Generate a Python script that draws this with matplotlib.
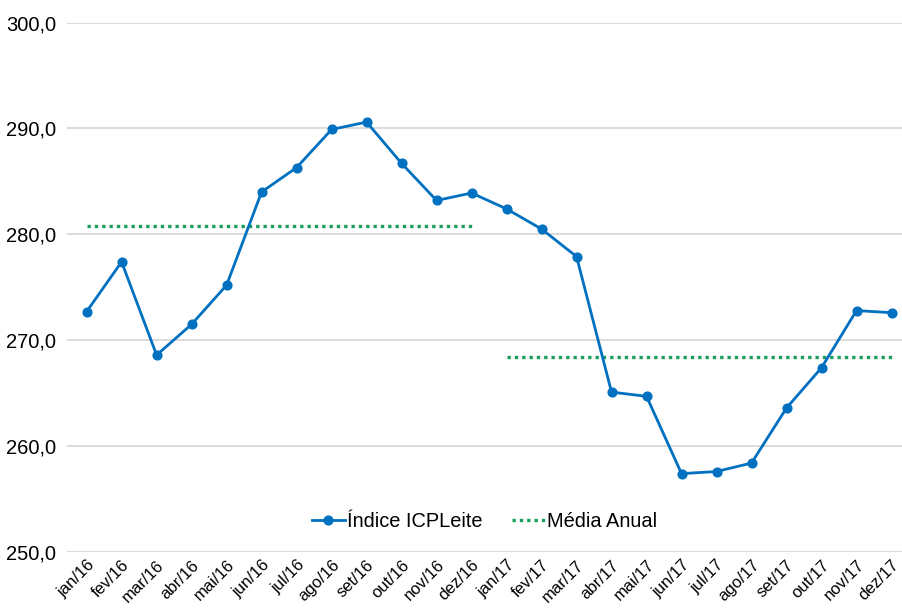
import numpy as np
import matplotlib
matplotlib.use("Agg")
import matplotlib.pyplot as plt
from matplotlib.ticker import FuncFormatter

plt.rcParams['font.family']=['Liberation Sans','DejaVu Sans']

meses=["jan/16","fev/16","mar/16","abr/16","mai/16","jun/16","jul/16","ago/16","set/16","out/16","nov/16","dez/16",
       "jan/17","fev/17","mar/17","abr/17","mai/17","jun/17","jul/17","ago/17","set/17","out/17","nov/17","dez/17"]
indice=[272.7,277.4,268.6,271.5,275.2,284.0,286.3,289.9,290.6,286.7,283.2,283.9,
        282.4,280.5,277.9,265.1,264.7,257.4,257.6,258.4,263.6,267.4,272.8,272.6]
media_2016=[280.8]*12
media_2017=[268.4]*12

AZUL="#0070C0"
VERDE="#19A05A"

fig=plt.figure(figsize=(9.02,6.09),dpi=100)
ax=fig.add_axes([0.0743,0.0936,0.9257,0.8694])

x=np.arange(len(meses))
ax.plot(x,indice,color=AZUL,lw=2.0,marker="o",ms=6.3,label="Índice ICPLeite",zorder=3)
ax.plot(x[:12],media_2016,color=VERDE,lw=2.4,ls=(0,(1,1.2)),label="Média Anual",zorder=2)
ax.plot(x[12:],media_2017,color=VERDE,lw=2.4,ls=(0,(1,1.2)),zorder=2)

ax.set_ylim(250,300)
ax.set_yticks(np.arange(250,301,10))
ax.yaxis.set_major_formatter(FuncFormatter(lambda v,p: f"{v:.1f}".replace(".",",")))
ax.set_xlim(-0.56,23.3)
ax.set_xticks(x)
ax.set_xticklabels(meses,rotation=45,ha="right",rotation_mode="anchor",fontsize=12)
ax.tick_params(axis="y",labelsize=14.5,length=0,pad=8)
ax.tick_params(axis="x",length=0,pad=4)
ax.grid(axis="y",color="#D9D9D9",lw=1.3)
ax.set_axisbelow(True)
for s in ax.spines.values():
    s.set_visible(False)

leg=ax.legend(loc="center",bbox_to_anchor=(0.5,0.057),ncol=2,frameon=False,fontsize=14.4,
              handlelength=1.65,handletextpad=0.1,columnspacing=1.5)

fig.savefig("out.png",dpi=100)
